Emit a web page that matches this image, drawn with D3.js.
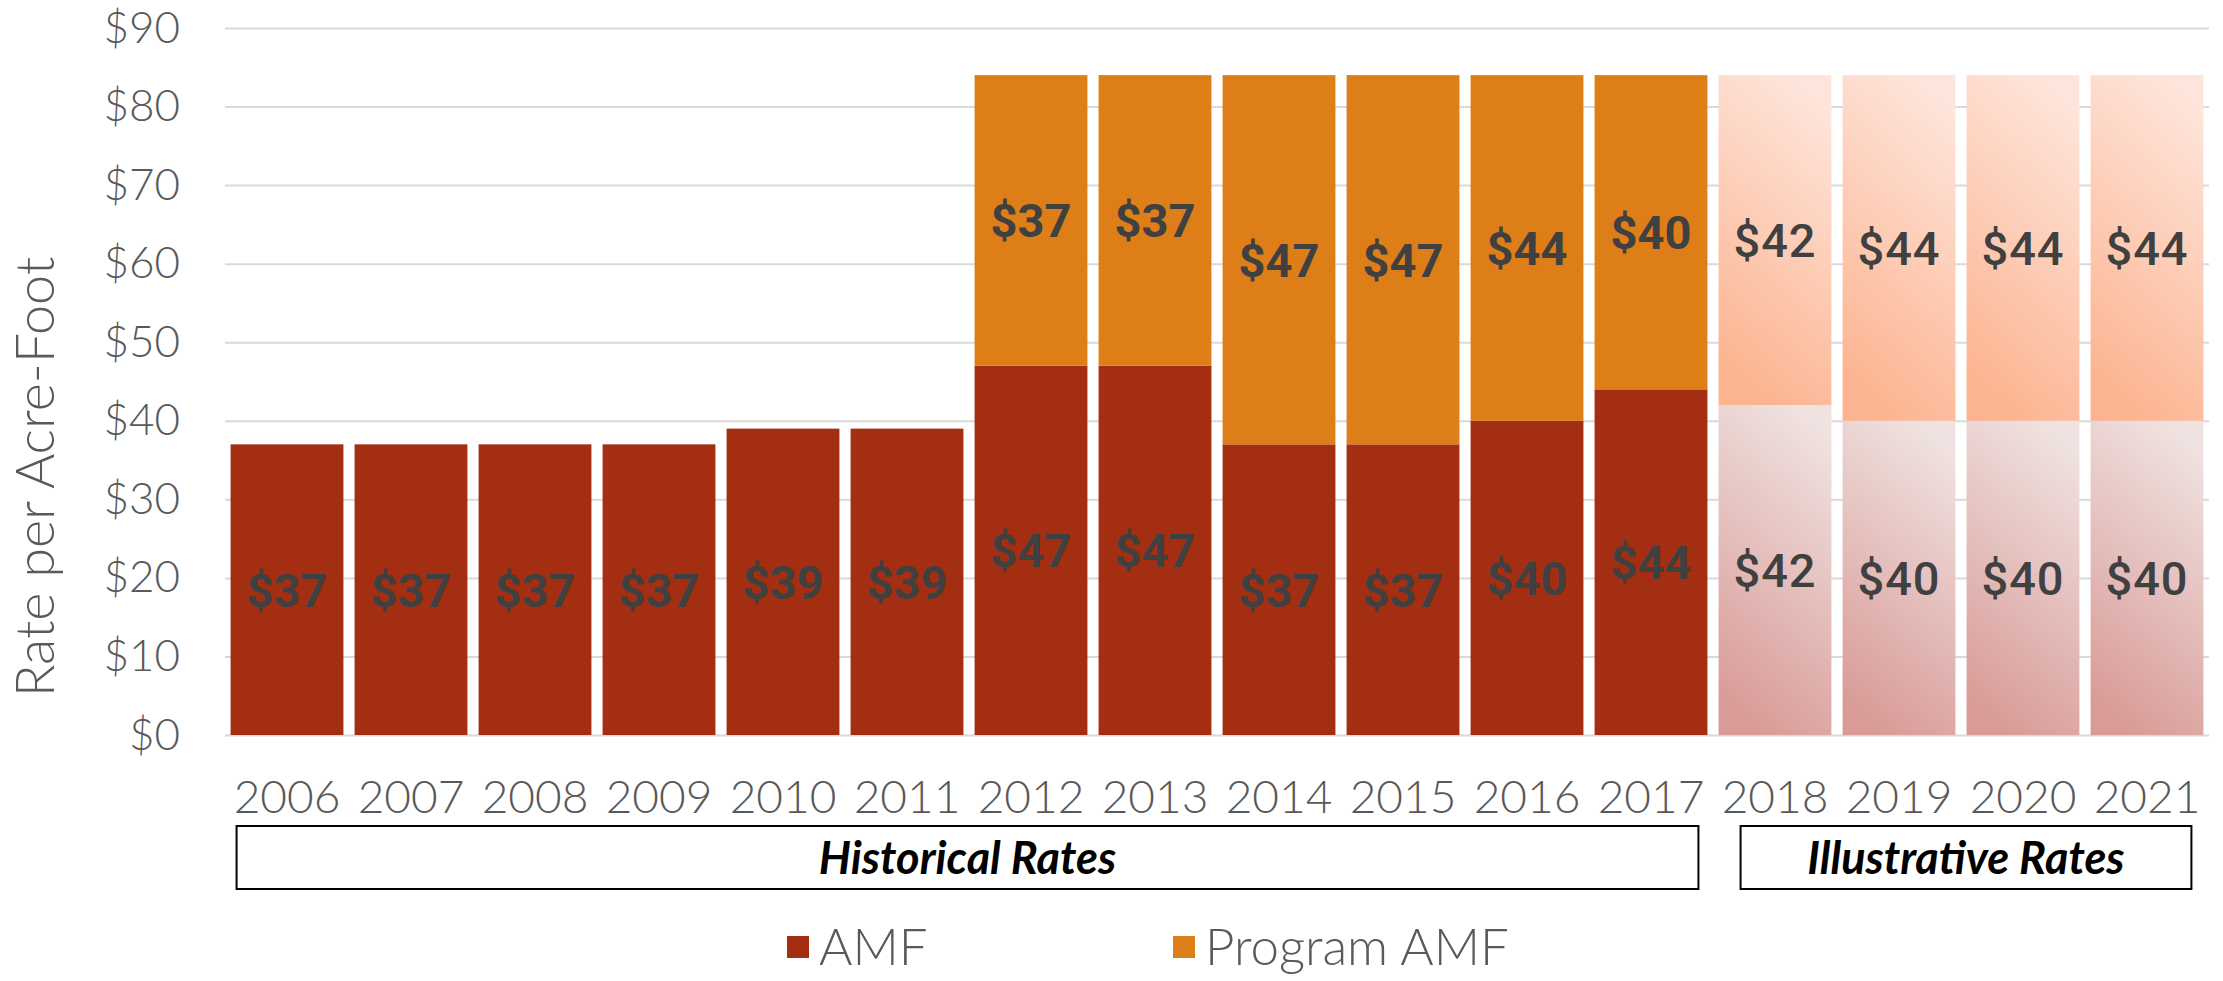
<!DOCTYPE html>
<html><head><meta charset="utf-8">
<script src="https://cdn.jsdelivr.net/npm/d3@7"></script>
<style>
html,body{margin:0;padding:0;background:#fff;}
svg{display:block;}
</style></head>
<body>
<svg id="chart" width="2223" height="981"></svg>
<script>
// ---- data ----
const years = ["2006","2007","2008","2009","2010","2011","2012","2013","2014","2015","2016","2017","2018","2019","2020","2021"];
const amf = [37,37,37,37,39,39,47,47,37,37,40,44,42,40,40,40];
const programAmf = [0,0,0,0,0,0,37,37,47,47,44,40,42,44,44,44];
const illustrativeYears = ["2018","2019","2020","2021"];
const yTicks = [0,10,20,30,40,50,60,70,80,90];
const seriesNames = ["AMF","Program AMF"];
const groupLabels = ["Historical Rates","Illustrative Rates"];
const groupFirstYear = ["2006","2018"];
const groupLastYear = ["2017","2021"];
const yTitle = "Rate per Acre-Foot";

// ---- styles ----
const colors = {"AMF":"#A32E11","Program AMF":"#DD7E19"};
const textGray = "#595959";
const labelGray = "#404040";

const svg = d3.select("#chart");
const defs = svg.append("defs");

const x = d3.scaleBand().domain(years).range([225,2209]).paddingInner(0.09).paddingOuter(0.045);
const y = d3.scaleLinear().domain([0,90]).range([735,28]);

// gradients for illustrative bars
function grad(id, c0, c1){
  const g = defs.append("linearGradient").attr("id",id)
    .attr("x1","0.65").attr("y1","0").attr("x2","0.35").attr("y2","1");
  g.append("stop").attr("offset","0").attr("stop-color",c0);
  g.append("stop").attr("offset","1").attr("stop-color",c1);
}
grad("gAMF","#EFE2E0","#D99B97");
grad("gProg","#FEE5DB","#FCB38F");
const illusFill = {"AMF":"url(#gAMF)","Program AMF":"url(#gProg)"};

// y axis + gridlines
const yAxis = svg.append("g").attr("transform","translate(225,0)")
  .call(d3.axisLeft(y).tickValues(yTicks).tickSize(-(2209-225)).tickPadding(45).tickFormat(d=>"$"+d));
yAxis.select(".domain").remove();
yAxis.selectAll(".tick line").attr("stroke","#D9D9D9").attr("stroke-width",2);
yAxis.selectAll(".tick text").attr("fill",textGray)
  .style("font-family","Lato, 'Open Sans', sans-serif").style("font-weight",300).style("font-size","44px");

// stacked bars
const rows = years.map((yr,i)=>({year:yr,"AMF":amf[i],"Program AMF":programAmf[i]}));
const stacked = d3.stack().keys(seriesNames)(rows);

const barG = svg.append("g");
stacked.forEach(series=>{
  const key = series.key;
  barG.selectAll(null).data(series.filter(d=>d[1]-d[0]>0)).join("rect")
    .attr("x",d=>x(d.data.year))
    .attr("width",x.bandwidth())
    .attr("y",d=>y(d[1]))
    .attr("height",d=>y(d[0])-y(d[1]))
    .attr("fill",d=>illustrativeYears.includes(d.data.year)? illusFill[key] : colors[key]);
});

// value labels
stacked.forEach(series=>{
  barG.selectAll(null).data(series.filter(d=>d[1]-d[0]>0)).join("text")
    .attr("x",d=>x(d.data.year)+x.bandwidth()/2)
    .attr("y",d=>y((d[0]+d[1])/2))
    .attr("dy","0.36em")
    .attr("text-anchor","middle")
    .attr("fill",labelGray)
    .style("font-family","Roboto, 'Liberation Sans', sans-serif")
    .style("font-weight",d=>illustrativeYears.includes(d.data.year)?500:700)
    .style("letter-spacing",d=>illustrativeYears.includes(d.data.year)?"1px":"0px")
    .style("font-size","47px")
    .text(d=>"$"+(d[1]-d[0]));
});

// x axis labels
const xAxis = svg.append("g").attr("transform","translate(0,735)")
  .call(d3.axisBottom(x).tickSize(0).tickPadding(0));
xAxis.select(".domain").remove();
xAxis.selectAll(".tick text").attr("y",61).attr("dy","0.36em").attr("fill",textGray)
  .style("font-family","Lato, 'Open Sans', sans-serif").style("font-weight",300).style("font-size","46px");

// y title
svg.append("text")
  .attr("transform","translate(35,477) rotate(-90)")
  .attr("text-anchor","middle").attr("dy","0.36em")
  .attr("fill",textGray)
  .style("font-family","Lato, 'Open Sans', sans-serif").style("font-weight",300).style("font-size","54px")
  .text(yTitle);

// group boxes
const boxInsetL = [6,22], boxInsetR = [9,12];
groupLabels.forEach((lab,i)=>{
  const x0 = x(groupFirstYear[i]) + boxInsetL[i];
  const x1 = x(groupLastYear[i]) + x.bandwidth() - boxInsetR[i];
  svg.append("rect").attr("x",x0).attr("y",826).attr("width",x1-x0).attr("height",63)
    .attr("fill","none").attr("stroke","#000").attr("stroke-width",2);
  svg.append("text").attr("x",(x0+x1)/2).attr("y",858).attr("dy","0.36em")
    .attr("text-anchor","middle").attr("fill","#000")
    .style("font-family","Lato, 'Open Sans', sans-serif").style("font-weight",700)
    .style("font-style","italic").style("font-size","45px").text(lab);
});

// legend
const legendX = [787, 1173];
seriesNames.forEach((name,i)=>{
  svg.append("rect").attr("x",legendX[i]).attr("y",936).attr("width",22).attr("height",22).attr("fill",colors[name]);
  svg.append("text").attr("x",legendX[i]+32).attr("y",947).attr("dy","0.36em")
    .attr("fill",textGray)
    .style("font-family","Lato, 'Open Sans', sans-serif").style("font-weight",300).style("font-size","51px")
    .text(name);
});
</script>
</body></html>
